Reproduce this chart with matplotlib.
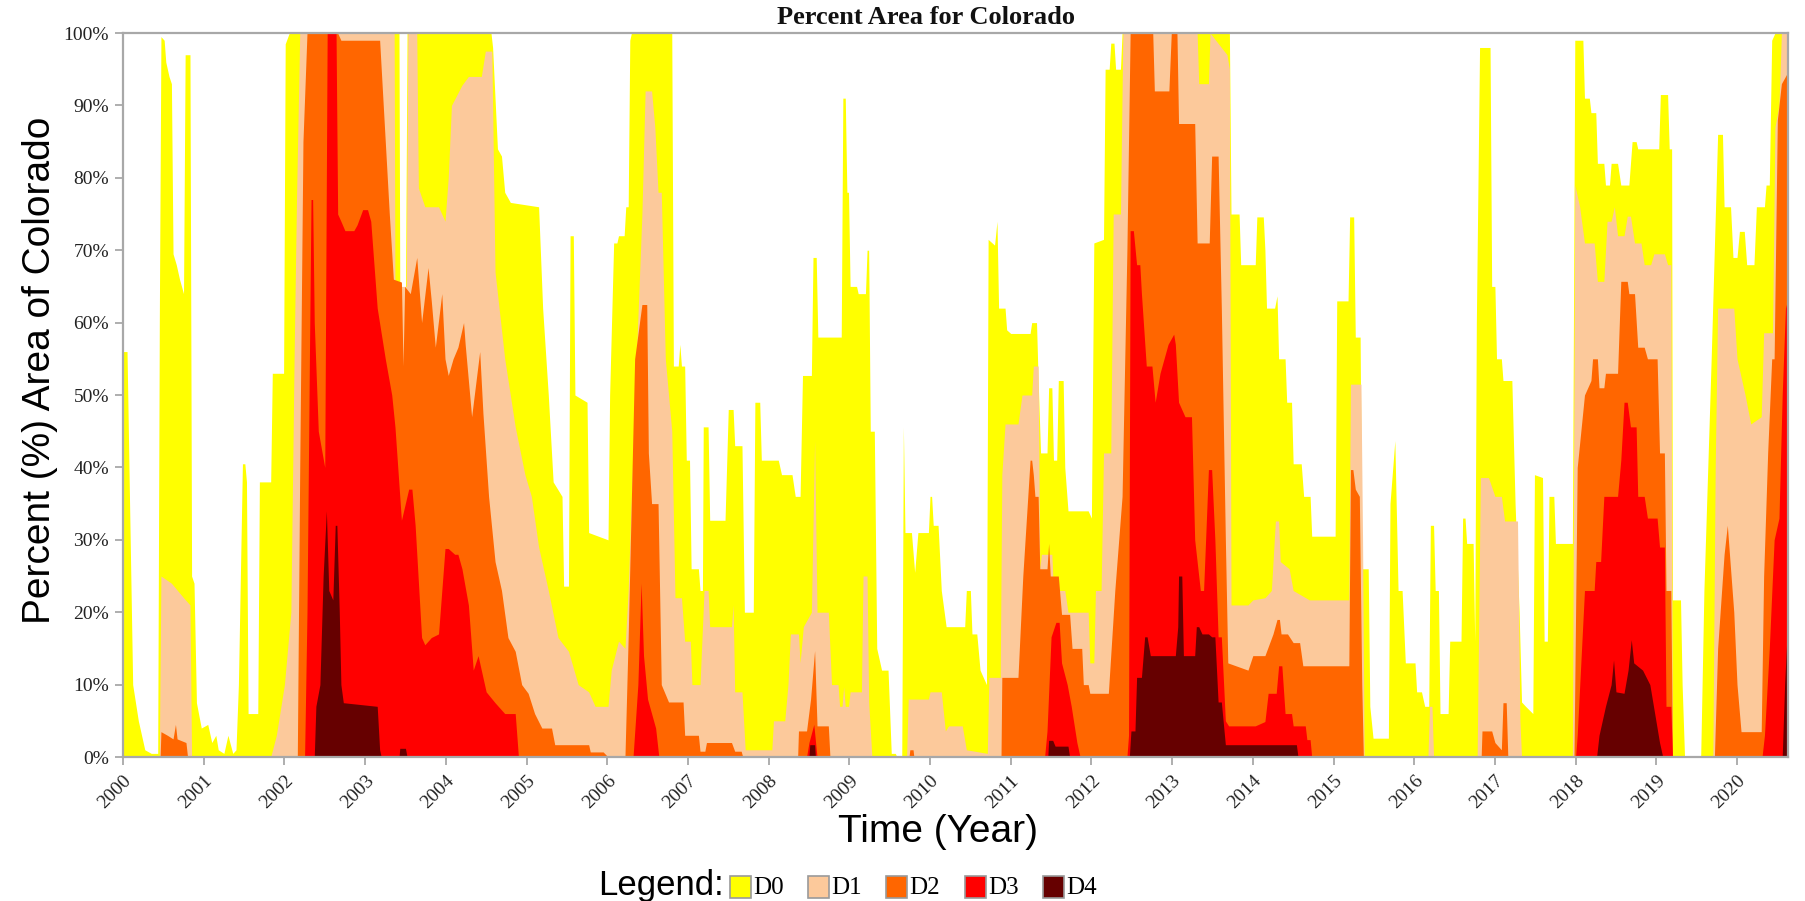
import matplotlib
matplotlib.use("Agg")
import matplotlib.pyplot as plt
from matplotlib.patches import Rectangle

# ---------------- data (decimal year, cumulative percent area) ----------------
D0 = [(2000.00, 56), (2000.05, 56), (2000.08, 36), (2000.12, 10), (2000.19, 5), (2000.27, 1), (2000.35, 0.5), (2000.43, 0.5),
      (2000.45, 60), (2000.47, 99.5), (2000.51, 99), (2000.53, 96), (2000.57, 94), (2000.60, 93),
      (2000.62, 69.5), (2000.66, 68), (2000.70, 66), (2000.75, 64), (2000.77, 97), (2000.83, 97),
      (2000.85, 25), (2000.88, 24), (2000.91, 7.5), (2000.97, 4), (2001.05, 4.5), (2001.10, 2), (2001.15, 3), (2001.18, 1),
      (2001.25, 0.5), (2001.30, 3), (2001.36, 0.5), (2001.40, 1),
      (2001.43, 10), (2001.48, 40.5), (2001.51, 40.5), (2001.53, 38), (2001.55, 6), (2001.67, 6), (2001.69, 38), (2001.83, 38),
      (2001.85, 53), (2001.99, 53), (2002.01, 98.5), (2002.06, 100), (2003.42, 100), (2003.43, 64), (2003.50, 64), (2003.52, 100),
      (2004.56, 100), (2004.58, 98), (2004.64, 84), (2004.69, 83), (2004.73, 78), (2004.80, 76.6), (2005.15, 76),
      (2005.20, 62), (2005.27, 50), (2005.33, 38), (2005.44, 36), (2005.46, 23.6), (2005.52, 23.6), (2005.54, 72), (2005.58, 72),
      (2005.60, 50), (2005.75, 49), (2005.77, 31), (2006.01, 30), (2006.03, 50), (2006.08, 71), (2006.12, 71), (2006.14, 72),
      (2006.21, 72), (2006.23, 76), (2006.26, 76), (2006.28, 99), (2006.30, 100), (2006.80, 100),
      (2006.82, 54), (2006.88, 54), (2006.90, 57), (2006.92, 54), (2006.96, 54), (2006.98, 41), (2007.02, 41), (2007.04, 26),
      (2007.13, 26), (2007.15, 23), (2007.18, 23), (2007.19, 45.6), (2007.25, 45.6), (2007.27, 32.7), (2007.46, 32.7),
      (2007.50, 48), (2007.56, 48), (2007.58, 43), (2007.67, 43), (2007.70, 20), (2007.81, 20), (2007.83, 49), (2007.89, 49),
      (2007.91, 41), (2008.12, 41), (2008.16, 39), (2008.29, 39), (2008.33, 36), (2008.39, 36), (2008.42, 52.7), (2008.53, 52.7),
      (2008.55, 69), (2008.59, 69), (2008.61, 58), (2008.90, 58), (2008.92, 91), (2008.95, 91), (2008.97, 78), (2008.99, 78),
      (2009.01, 65), (2009.09, 65), (2009.11, 64), (2009.20, 64), (2009.22, 70), (2009.24, 70), (2009.26, 45), (2009.31, 45),
      (2009.34, 15), (2009.40, 12), (2009.48, 12), (2009.52, 0.5), (2009.57, 0.5), (2009.59, 0), (2009.65, 0), (2009.67, 45.6),
      (2009.69, 31), (2009.77, 31), (2009.81, 25.5), (2009.85, 31), (2009.98, 31), (2010.00, 36), (2010.02, 36), (2010.04, 32),
      (2010.10, 32), (2010.14, 23), (2010.20, 18), (2010.43, 18), (2010.45, 23), (2010.50, 23), (2010.52, 17), (2010.58, 17),
      (2010.62, 12), (2010.70, 10),
      (2010.72, 71.5), (2010.80, 70.7), (2010.83, 74), (2010.85, 62), (2010.93, 62), (2010.95, 59), (2011.00, 58.5), (2011.24, 58.5),
      (2011.26, 60), (2011.32, 60), (2011.34, 52), (2011.37, 42), (2011.45, 42), (2011.47, 51), (2011.51, 51), (2011.53, 41),
      (2011.57, 41), (2011.59, 52), (2011.65, 52), (2011.67, 40), (2011.71, 34), (2011.96, 34), (2012.00, 33), (2012.03, 71),
      (2012.15, 71.5), (2012.17, 95), (2012.22, 95), (2012.24, 98.6), (2012.28, 98.6), (2012.30, 95), (2012.36, 95), (2012.38, 100),
      (2013.71, 100),
      (2013.73, 75), (2013.83, 75), (2013.85, 68), (2014.03, 68), (2014.05, 74.6), (2014.13, 74.6), (2014.15, 70), (2014.17, 62),
      (2014.27, 62), (2014.30, 63.7), (2014.32, 55), (2014.40, 55), (2014.42, 49), (2014.48, 49), (2014.50, 40.5), (2014.60, 40.5),
      (2014.63, 36), (2014.71, 36), (2014.73, 30.5), (2015.02, 30.5), (2015.04, 63), (2015.18, 63), (2015.20, 74.6), (2015.25, 74.6),
      (2015.27, 58), (2015.33, 58), (2015.35, 26), (2015.43, 26), (2015.45, 7), (2015.49, 2.6), (2015.68, 2.6), (2015.70, 35),
      (2015.76, 43.7), (2015.80, 23), (2015.85, 23), (2015.89, 13), (2016.01, 13), (2016.03, 9), (2016.09, 9), (2016.13, 7),
      (2016.18, 7), (2016.20, 32), (2016.24, 32), (2016.26, 23), (2016.30, 23), (2016.32, 6), (2016.42, 6), (2016.44, 16),
      (2016.58, 16), (2016.60, 33), (2016.63, 33), (2016.65, 29.5), (2016.73, 29.5), (2016.75, 16), (2016.77, 60), (2016.81, 98),
      (2016.94, 98), (2016.96, 65), (2017.00, 65), (2017.02, 55), (2017.08, 55), (2017.10, 52), (2017.21, 52), (2017.25, 35),
      (2017.30, 20), (2017.33, 7.6), (2017.38, 7), (2017.47, 6), (2017.49, 39), (2017.59, 38.6), (2017.61, 16), (2017.65, 16),
      (2017.67, 36), (2017.73, 36), (2017.75, 29.5), (2017.96, 29.5),
      (2017.99, 99), (2018.09, 99), (2018.11, 91), (2018.17, 91), (2018.19, 89), (2018.25, 89), (2018.27, 82), (2018.35, 82),
      (2018.37, 79), (2018.42, 79), (2018.44, 82), (2018.52, 82), (2018.56, 79), (2018.66, 79), (2018.70, 85), (2018.75, 85),
      (2018.77, 84), (2019.03, 84), (2019.05, 91.5), (2019.14, 91.5), (2019.16, 84), (2019.19, 84), (2019.20, 21.7), (2019.30, 21.7),
      (2019.32, 10), (2019.35, 0), (2019.55, 0), (2019.59, 23), (2019.68, 55), (2019.76, 86), (2019.82, 86), (2019.84, 76),
      (2019.92, 76), (2019.95, 69), (2020.00, 69), (2020.03, 72.6), (2020.09, 72.6), (2020.12, 68), (2020.21, 68), (2020.24, 76),
      (2020.34, 76), (2020.36, 79), (2020.40, 79), (2020.43, 99), (2020.47, 100), (2020.70, 100)]

D1 = [(2000.00, 0), (2000.45, 0), (2000.47, 25), (2000.60, 24), (2000.75, 22), (2000.83, 21), (2000.85, 0),
      (2001.83, 0), (2001.90, 3), (2002.00, 10), (2002.08, 20), (2002.12, 55), (2002.15, 77), (2002.19, 100), (2003.36, 100),
      (2003.37, 65), (2003.51, 65), (2003.53, 100), (2003.64, 100), (2003.66, 78.6), (2003.74, 76), (2003.91, 76), (2003.99, 74),
      (2004.03, 80), (2004.07, 90), (2004.20, 92.8), (2004.28, 94), (2004.44, 94), (2004.49, 97.5), (2004.57, 97.5), (2004.61, 67),
      (2004.73, 55), (2004.86, 45.6), (2004.98, 39), (2005.06, 36), (2005.15, 29), (2005.27, 23), (2005.39, 16.5), (2005.52, 14.6),
      (2005.64, 10), (2005.77, 9), (2005.85, 7), (2006.01, 7), (2006.05, 12), (2006.14, 16), (2006.22, 15), (2006.26, 23),
      (2006.34, 49), (2006.43, 75), (2006.47, 92), (2006.55, 92), (2006.59, 87), (2006.63, 78), (2006.67, 78), (2006.72, 55),
      (2006.80, 45), (2006.84, 22), (2006.92, 22), (2006.96, 16), (2007.03, 16), (2007.05, 10), (2007.15, 10), (2007.20, 23),
      (2007.25, 23), (2007.27, 18), (2007.54, 18), (2007.56, 21), (2007.58, 9), (2007.67, 9), (2007.71, 1), (2008.04, 1),
      (2008.06, 5), (2008.20, 5), (2008.24, 10), (2008.27, 17), (2008.37, 17), (2008.39, 13), (2008.43, 18), (2008.53, 20),
      (2008.57, 43.7), (2008.60, 20), (2008.74, 20), (2008.78, 10), (2008.86, 10), (2008.88, 7), (2008.91, 7), (2008.93, 9.7),
      (2008.95, 7), (2008.99, 7), (2009.01, 9), (2009.15, 9), (2009.17, 25), (2009.22, 25), (2009.24, 7.6), (2009.28, 0),
      (2009.71, 0), (2009.73, 8), (2009.98, 8), (2010.00, 9), (2010.14, 9), (2010.19, 3.6), (2010.23, 4.3), (2010.40, 4.3),
      (2010.45, 1), (2010.71, 0.5),
      (2010.73, 11), (2010.87, 11), (2010.89, 39), (2010.93, 46), (2011.09, 46), (2011.14, 50), (2011.26, 50), (2011.28, 54),
      (2011.34, 54), (2011.36, 26), (2011.38, 28), (2011.51, 28), (2011.53, 23), (2011.67, 23), (2011.71, 20), (2011.96, 20),
      (2011.98, 13), (2012.03, 13), (2012.05, 23), (2012.12, 23), (2012.15, 42), (2012.24, 42), (2012.27, 75), (2012.36, 75),
      (2012.39, 100), (2013.31, 100), (2013.33, 93), (2013.45, 93), (2013.47, 100), (2013.68, 97), (2013.71, 95),
      (2013.73, 21), (2013.94, 21), (2014.00, 21.7), (2014.15, 22), (2014.23, 23), (2014.28, 32.6), (2014.32, 32.6), (2014.34, 27),
      (2014.45, 26), (2014.50, 23), (2014.70, 21.7), (2015.19, 21.7), (2015.21, 51.5), (2015.34, 51.5), (2015.36, 30), (2015.38, 0),
      (2016.17, 0), (2016.19, 7), (2016.22, 7), (2016.24, 0), (2016.78, 0), (2016.82, 38.6), (2016.92, 38.6), (2017.00, 36),
      (2017.08, 36), (2017.12, 32.6), (2017.28, 32.6), (2017.31, 5), (2017.33, 0), (2017.96, 0), (2017.99, 79), (2018.05, 76),
      (2018.11, 71), (2018.23, 71), (2018.27, 65.7), (2018.35, 65.7), (2018.39, 74), (2018.44, 74), (2018.48, 76), (2018.52, 72),
      (2018.60, 72), (2018.64, 74.7), (2018.68, 74.7), (2018.73, 71), (2018.81, 71), (2018.85, 68), (2018.93, 68), (2018.97, 69.5),
      (2019.10, 69.5), (2019.14, 68), (2019.18, 68), (2019.20, 0), (2019.70, 0), (2019.73, 40), (2019.76, 62), (2019.96, 62),
      (2020.00, 55), (2020.10, 50), (2020.17, 46), (2020.30, 47), (2020.33, 58.6), (2020.44, 58.6), (2020.47, 87), (2020.52, 90),
      (2020.55, 100), (2020.70, 100)]

D2 = [(2000.00, 0), (2000.46, 0), (2000.47, 3.5), (2000.55, 3), (2000.62, 2.5), (2000.65, 4.5), (2000.67, 2.5), (2000.78, 2),
      (2000.80, 0),
      (2002.16, 0), (2002.19, 40), (2002.23, 85), (2002.28, 100), (2002.66, 100), (2002.70, 99), (2003.18, 99), (2003.20, 95),
      (2003.25, 85), (2003.30, 75), (2003.35, 66), (2003.45, 65.6), (2003.47, 54), (2003.49, 65), (2003.56, 64), (2003.64, 69),
      (2003.70, 60), (2003.78, 67.6), (2003.82, 63), (2003.87, 56.6), (2003.95, 64), (2003.99, 55), (2004.03, 52.7), (2004.09, 55),
      (2004.15, 56.6), (2004.22, 60), (2004.24, 57), (2004.32, 47), (2004.42, 56), (2004.46, 47.5), (2004.53, 36), (2004.61, 27),
      (2004.69, 23), (2004.77, 16.5), (2004.86, 14.6), (2004.94, 10), (2005.02, 8.8), (2005.10, 6), (2005.19, 4), (2005.31, 4),
      (2005.35, 1.7), (2005.77, 1.7), (2005.79, 0.7), (2005.95, 0.7), (2006.01, 0), (2006.22, 0), (2006.26, 16.6), (2006.34, 55),
      (2006.43, 62.5), (2006.49, 62.5), (2006.51, 42), (2006.55, 35), (2006.63, 35), (2006.67, 10), (2006.76, 7.6), (2006.94, 7.6),
      (2006.96, 3), (2007.13, 3), (2007.15, 0.8), (2007.21, 0.8), (2007.23, 2), (2007.54, 2), (2007.58, 0.8), (2007.66, 0.8),
      (2007.68, 0),
      (2008.36, 0), (2008.37, 3.6), (2008.47, 3.6), (2008.52, 8), (2008.57, 14.7), (2008.60, 4.3), (2008.74, 4.3), (2008.76, 0),
      (2009.74, 0), (2009.75, 1), (2009.79, 1), (2009.80, 0),
      (2010.88, 0), (2010.89, 11), (2011.09, 11), (2011.15, 25), (2011.24, 41), (2011.26, 41), (2011.28, 39), (2011.30, 36),
      (2011.34, 36), (2011.36, 26), (2011.45, 26), (2011.47, 29.5), (2011.49, 25), (2011.59, 25), (2011.63, 19.7), (2011.73, 19.7),
      (2011.76, 15), (2011.88, 15), (2011.90, 10), (2011.96, 10), (2011.98, 8.8), (2012.21, 8.8), (2012.29, 23), (2012.38, 36),
      (2012.44, 70), (2012.48, 100), (2012.76, 100), (2012.78, 92), (2012.96, 92), (2012.99, 100), (2013.06, 100), (2013.08, 87.5),
      (2013.28, 87.5), (2013.31, 71), (2013.46, 71), (2013.49, 83), (2013.57, 83), (2013.61, 62), (2013.66, 30), (2013.69, 13),
      (2013.94, 12), (2014.00, 14), (2014.15, 14), (2014.25, 17), (2014.30, 19), (2014.33, 19), (2014.35, 17), (2014.43, 17),
      (2014.50, 15.8), (2014.58, 15.8), (2014.62, 12.6), (2015.19, 12.6), (2015.21, 39.7), (2015.24, 39.7), (2015.27, 37),
      (2015.32, 36), (2015.35, 10), (2015.37, 0),
      (2016.83, 0), (2016.84, 3.6), (2016.96, 3.6), (2017.00, 2), (2017.08, 1), (2017.10, 7.5), (2017.14, 7.5), (2017.16, 0),
      (2017.98, 0), (2018.02, 40), (2018.11, 50), (2018.19, 52), (2018.21, 55), (2018.27, 55), (2018.29, 51), (2018.35, 51),
      (2018.37, 53), (2018.52, 53), (2018.56, 65.7), (2018.64, 65.7), (2018.66, 64), (2018.73, 64), (2018.77, 56.6), (2018.85, 56.6),
      (2018.89, 55), (2019.01, 55), (2019.04, 42), (2019.10, 42), (2019.12, 23), (2019.18, 23), (2019.20, 0),
      (2019.72, 0), (2019.76, 15), (2019.84, 28), (2019.88, 32), (2019.92, 26), (2019.96, 20), (2020.00, 10), (2020.05, 3.5),
      (2020.30, 3.5), (2020.33, 25), (2020.38, 42), (2020.43, 55), (2020.46, 55), (2020.50, 88), (2020.55, 93), (2020.70, 96)]

D3 = [(2000.00, 0), (2002.25, 0), (2002.28, 20), (2002.31, 55), (2002.33, 77), (2002.35, 77), (2002.37, 60), (2002.42, 45),
      (2002.50, 40), (2002.53, 100), (2002.64, 100), (2002.66, 75), (2002.70, 74), (2002.75, 72.7), (2002.86, 72.7), (2002.90, 73.5),
      (2002.97, 75.6), (2003.03, 75.6), (2003.07, 74), (2003.15, 62), (2003.25, 55), (2003.33, 50), (2003.37, 45.6), (2003.45, 32.7),
      (2003.54, 37), (2003.58, 37), (2003.62, 32), (2003.70, 16.5), (2003.74, 15.5), (2003.82, 16.5), (2003.91, 17), (2003.99, 28.8),
      (2004.03, 28.8), (2004.11, 28), (2004.15, 28), (2004.20, 26), (2004.28, 21), (2004.34, 12), (2004.40, 14), (2004.50, 9),
      (2004.61, 7.5), (2004.73, 6), (2004.86, 6), (2004.90, 0),
      (2006.32, 0), (2006.38, 10), (2006.42, 24), (2006.45, 14), (2006.50, 8), (2006.60, 4), (2006.64, 0),
      (2008.47, 0), (2008.50, 2), (2008.56, 4.5), (2008.60, 0),
      (2011.42, 0), (2011.45, 3.6), (2011.50, 16.6), (2011.56, 18.6), (2011.60, 18.6), (2011.63, 13), (2011.70, 10), (2011.75, 7),
      (2011.82, 2), (2011.86, 0),
      (2012.44, 0), (2012.46, 3), (2012.48, 72.7), (2012.52, 72.7), (2012.56, 68), (2012.60, 68), (2012.62, 64), (2012.68, 54),
      (2012.75, 54), (2012.79, 49), (2012.85, 53), (2012.95, 57), (2013.02, 58.4), (2013.04, 57), (2013.08, 49), (2013.16, 47),
      (2013.24, 47), (2013.28, 30), (2013.35, 23), (2013.39, 23), (2013.45, 39.7), (2013.49, 39.7), (2013.53, 30), (2013.57, 16.6),
      (2013.61, 16.6), (2013.66, 5), (2013.70, 4.3), (2014.03, 4.3), (2014.15, 4.9), (2014.19, 8.8), (2014.29, 8.8), (2014.32, 12.6),
      (2014.36, 12.6), (2014.40, 6), (2014.48, 6), (2014.50, 4.3), (2014.65, 4.3), (2014.67, 2.4), (2014.71, 2.4), (2014.73, 0),
      (2018.00, 0), (2018.02, 3), (2018.11, 23), (2018.23, 23), (2018.25, 27), (2018.31, 27), (2018.35, 36), (2018.52, 36),
      (2018.56, 41), (2018.60, 49), (2018.64, 49), (2018.68, 45.6), (2018.75, 45.6), (2018.77, 36), (2018.85, 36), (2018.89, 33),
      (2019.01, 33), (2019.04, 29), (2019.10, 29), (2019.12, 7), (2019.18, 7), (2019.20, 0),
      (2020.31, 0), (2020.34, 3), (2020.40, 15), (2020.46, 30), (2020.52, 33), (2020.56, 50), (2020.60, 62), (2020.70, 66)]

D4 = [(2000.00, 0), (2002.37, 0), (2002.39, 7), (2002.44, 10), (2002.48, 25), (2002.52, 34), (2002.55, 23), (2002.60, 21.7),
      (2002.63, 32), (2002.65, 32), (2002.68, 20), (2002.70, 10), (2002.73, 7.5), (2003.15, 7), (2003.18, 1), (2003.20, 0),
      (2003.42, 0), (2003.43, 1.2), (2003.50, 1.2), (2003.52, 0),
      (2008.50, 0), (2008.51, 1.7), (2008.57, 1.7), (2008.58, 0),
      (2011.46, 0), (2011.47, 2.3), (2011.52, 2.3), (2011.55, 1.5), (2011.71, 1.5), (2011.73, 0),
      (2012.47, 0), (2012.49, 3.6), (2012.54, 3.6), (2012.56, 11), (2012.62, 11), (2012.66, 16.6), (2012.69, 16.6), (2012.73, 14),
      (2013.04, 14), (2013.07, 18), (2013.08, 25), (2013.12, 25), (2013.14, 14), (2013.28, 14), (2013.30, 18), (2013.33, 18),
      (2013.37, 17), (2013.45, 17), (2013.49, 16.6), (2013.53, 16.6), (2013.57, 7.6), (2013.61, 7.6), (2013.66, 1.7), (2014.54, 1.7),
      (2014.56, 0),
      (2018.26, 0), (2018.29, 3), (2018.37, 7), (2018.44, 10), (2018.47, 13.4), (2018.50, 9), (2018.60, 8.8), (2018.65, 12),
      (2018.69, 16.2), (2018.72, 13), (2018.83, 12), (2018.92, 10), (2018.98, 6), (2019.04, 2), (2019.08, 0),
      (2020.56, 0), (2020.59, 10), (2020.62, 17), (2020.70, 17)]

LEVELS = ["D0", "D1", "D2", "D3", "D4"]
COLORS = ["#FFFF00", "#FCC99B", "#FF6600", "#FF0000", "#660000"]
YEARS = list(range(2000, 2021))
Y_TICKS = list(range(0, 101, 10))
X_END = 2020.63

# ---------------- figure ----------------
W, H = 1806, 901
PX_PER_YEAR = 80.7
LEFT, TOP, BOTTOM = 123, 33, 757
RIGHT = LEFT + (X_END - 2000) * PX_PER_YEAR

fig = plt.figure(figsize=(W / 100, H / 100), dpi=100)
ax = fig.add_axes([LEFT / W, 1 - BOTTOM / H, (RIGHT - LEFT) / W, (BOTTOM - TOP) / H])

for series, color in zip([D0, D1, D2, D3, D4], COLORS):
    t = [p[0] for p in series]
    v = [p[1] for p in series]
    ax.fill_between(t, v, 0, color=color, linewidth=0)

ax.set_xlim(2000, X_END)
ax.set_ylim(0, 100)

GRAY = "#A8A8A8"
for s in ax.spines.values():
    s.set_color(GRAY)
    s.set_linewidth(1.6)

ax.set_yticks(Y_TICKS)
ax.set_yticklabels([f"{v}%" for v in Y_TICKS], fontsize=14, family="Liberation Serif", color="#222222")
ax.set_xticks(YEARS)
ax.set_xticklabels([str(y) for y in YEARS], fontsize=14, family="Liberation Serif", color="#222222",
                   rotation=45, ha="right", va="top", rotation_mode="anchor")
ax.tick_params(axis="both", colors=GRAY, length=6, width=1.3, labelcolor="#222222")
ax.tick_params(axis="x", pad=5)
ax.tick_params(axis="y", pad=4)

fig.text(926 / W, 1 - 18 / H, "Percent Area for Colorado", ha="center", va="center",
         fontsize=19, fontweight="bold", family="Liberation Serif", color="#111111")
fig.text(40 / W, 1 - 370 / H, "Percent (%) Area of Colorado", ha="center", va="center",
         rotation=90, fontsize=28, family="Liberation Sans")
fig.text(938 / W, 1 - 832 / H, "Time (Year)", ha="center", va="center",
         fontsize=28, family="Liberation Sans")

# legend
fig.text(598 / W, 1 - 886 / H, "Legend:", ha="left", va="center", fontsize=25, family="Liberation Sans")
box_x = [730, 808, 886, 965, 1043]
for lvl, col, bx in zip(LEVELS, COLORS, box_x):
    fig.add_artist(Rectangle((bx / W, 1 - 898 / H), 21 / W, 22 / H, facecolor=col,
                             edgecolor="#9a9a9a", linewidth=1.2, transform=fig.transFigure))
    fig.text((bx + 23) / W, 1 - 888 / H, lvl, ha="left", va="center", fontsize=18,
             family="Liberation Serif")

fig.savefig("out.png", dpi=100)
